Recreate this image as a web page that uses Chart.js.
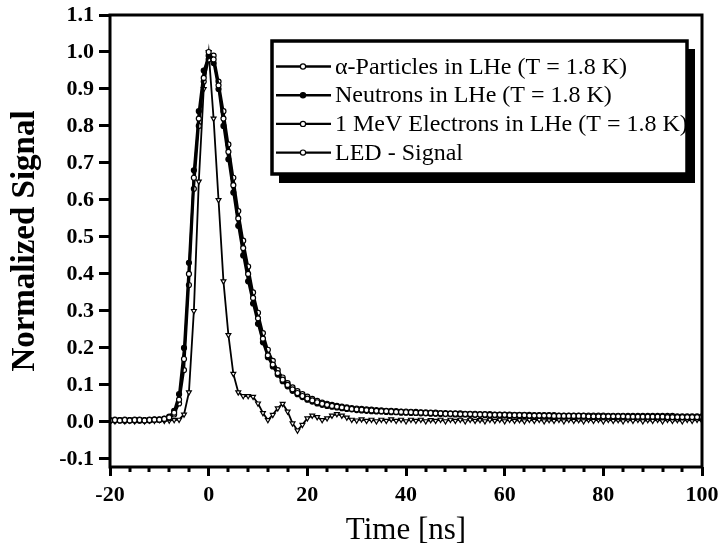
<!DOCTYPE html>
<html>
<head>
<meta charset="utf-8">
<script src="https://cdn.jsdelivr.net/npm/chart.js@4.4.1/dist/chart.umd.min.js"></script>
<style>
  html, body { margin: 0; padding: 0; background: #fff; }
  #wrap { width: 724px; height: 549px; position: relative; }
</style>
</head>
<body>
<div id="wrap"><canvas id="chart" width="724" height="549"></canvas></div>
<script>
// time axis: one sample per ns from -20 to 100
const times = [];
for (let t = -20; t <= 100; t++) times.push(t);

const xTickLabels = [-20, 0, 20, 40, 60, 80, 100];
const yTickLabels = [-0.1, 0.0, 0.1, 0.2, 0.3, 0.4, 0.5, 0.6, 0.7, 0.8, 0.9, 1.0, 1.1];

const seriesNames = [
    'α-Particles in LHe (T = 1.8 K)',
    'Neutrons in LHe (T = 1.8 K)',
    '1 MeV Electrons in LHe (T = 1.8 K)',
    'LED - Signal'
];

const alphaSignal = [
    0.004, 0.005, 0.004, 0.005, 0.004, 0.005, 0.005, 0.004, 0.005, 0.006,
    0.006, 0.008, 0.012, 0.025, 0.06, 0.17, 0.40, 0.66, 0.82, 0.93,
    1.00, 0.98, 0.91, 0.82, 0.73, 0.64, 0.55, 0.47, 0.40, 0.335,
    0.28, 0.225, 0.18, 0.155, 0.132, 0.114, 0.100, 0.088, 0.078, 0.070,
    0.063, 0.058, 0.053, 0.049, 0.046, 0.043, 0.041, 0.039, 0.037, 0.035,
    0.034, 0.033, 0.032, 0.031, 0.030, 0.029, 0.029, 0.028, 0.027, 0.027,
    0.026, 0.026, 0.025, 0.025, 0.024, 0.024, 0.023, 0.023, 0.022, 0.022,
    0.022, 0.021, 0.021, 0.021, 0.020, 0.020, 0.020, 0.019, 0.019, 0.019,
    0.019, 0.018, 0.018, 0.018, 0.018, 0.017, 0.017, 0.017, 0.017, 0.017,
    0.016, 0.016, 0.016, 0.016, 0.016, 0.016, 0.016, 0.015, 0.015, 0.015,
    0.015, 0.015, 0.015, 0.015, 0.015, 0.014, 0.014, 0.014, 0.014, 0.014,
    0.014, 0.014, 0.014, 0.013, 0.013, 0.013, 0.013, 0.013, 0.013, 0.013,
    0.013
];

const neutronSignal = [
    0.003, 0.004, 0.004, 0.003, 0.004, 0.004, 0.003, 0.004, 0.004, 0.005,
    0.005, 0.007, 0.014, 0.03, 0.075, 0.20, 0.43, 0.68, 0.84, 0.95,
    0.99, 0.97, 0.90, 0.80, 0.71, 0.62, 0.53, 0.45, 0.38, 0.32,
    0.265, 0.215, 0.175, 0.150, 0.128, 0.110, 0.096, 0.084, 0.075, 0.067,
    0.060, 0.055, 0.050, 0.046, 0.043, 0.041, 0.039, 0.037, 0.035, 0.034,
    0.032, 0.031, 0.030, 0.029, 0.028, 0.028, 0.027, 0.026, 0.026, 0.025,
    0.025, 0.024, 0.024, 0.023, 0.023, 0.022, 0.022, 0.021, 0.021, 0.021,
    0.020, 0.020, 0.020, 0.019, 0.019, 0.019, 0.018, 0.018, 0.018, 0.018,
    0.017, 0.017, 0.017, 0.017, 0.016, 0.016, 0.016, 0.016, 0.016, 0.015,
    0.015, 0.015, 0.015, 0.015, 0.015, 0.015, 0.015, 0.014, 0.014, 0.014,
    0.014, 0.014, 0.014, 0.014, 0.014, 0.014, 0.014, 0.014, 0.014, 0.014,
    0.014, 0.013, 0.013, 0.013, 0.013, 0.013, 0.013, 0.013, 0.013, 0.013,
    0.013
];

const electronSignal = [
    0.005, 0.006, 0.005, 0.006, 0.005, 0.006, 0.006, 0.005, 0.006, 0.007,
    0.007, 0.009, 0.011, 0.02, 0.05, 0.14, 0.37, 0.63, 0.80, 0.92,
    0.98, 0.99, 0.92, 0.84, 0.75, 0.66, 0.57, 0.49, 0.42, 0.35,
    0.295, 0.24, 0.195, 0.165, 0.140, 0.120, 0.105, 0.093, 0.083, 0.075,
    0.068, 0.062, 0.057, 0.052, 0.049, 0.046, 0.043, 0.041, 0.039, 0.037,
    0.036, 0.035, 0.034, 0.033, 0.032, 0.031, 0.030, 0.030, 0.029, 0.028,
    0.028, 0.027, 0.027, 0.026, 0.026, 0.025, 0.025, 0.024, 0.024, 0.023,
    0.023, 0.023, 0.022, 0.022, 0.022, 0.021, 0.021, 0.021, 0.020, 0.020,
    0.020, 0.020, 0.019, 0.019, 0.019, 0.019, 0.018, 0.018, 0.018, 0.018,
    0.018, 0.017, 0.017, 0.017, 0.017, 0.017, 0.017, 0.017, 0.017, 0.017,
    0.017, 0.016, 0.016, 0.016, 0.016, 0.016, 0.016, 0.016, 0.016, 0.016,
    0.016, 0.016, 0.016, 0.016, 0.016, 0.015, 0.015, 0.015, 0.015, 0.015,
    0.015
];

const ledSignal = [
    0.004, 0.002, 0.005, 0.002, 0.004, 0.002, 0.005, 0.002, 0.004, 0.003,
    0.005, 0.003, 0.004, 0.005, 0.006, 0.02, 0.08, 0.30, 0.65, 0.90,
    1.00, 0.82, 0.60, 0.38, 0.235, 0.13, 0.08, 0.07, 0.07, 0.068,
    0.05, 0.024, 0.005, 0.019, 0.037, 0.049, 0.028, -0.004, -0.023, -0.008,
    0.01, 0.017, 0.013, 0.005, 0.01, 0.017, 0.021, 0.017, 0.012, 0.006,
    0.004, 0.007, 0.003, 0.006, 0.002, 0.006, 0.003, 0.007, 0.003, 0.006,
    0.002, 0.006, 0.003, 0.006, 0.002, 0.005, 0.003, 0.006, 0.002, 0.006,
    0.003, 0.006, 0.002, 0.006, 0.003, 0.005, 0.002, 0.006, 0.003, 0.006,
    0.002, 0.006, 0.003, 0.005, 0.002, 0.006, 0.003, 0.006, 0.002, 0.005,
    0.003, 0.006, 0.002, 0.006, 0.003, 0.005, 0.002, 0.006, 0.003, 0.006,
    0.002, 0.006, 0.003, 0.005, 0.002, 0.006, 0.003, 0.006, 0.002, 0.005,
    0.003, 0.006, 0.002, 0.006, 0.003, 0.005, 0.002, 0.006, 0.003, 0.006,
    0.003
];

const SERIF = "'Liberation Serif', 'Times New Roman', serif";

function toPoints(values) {
    return values.map((v, i) => ({ x: times[i], y: v }));
}

function makeSet(label, values, fill, style) {
    const tri = style === 'triangle';
    return {
        label: label,
        data: toPoints(values),
        borderColor: '#000',
        borderWidth: tri ? 1.8 : 2.2,
        pointStyle: style || 'circle',
        pointRotation: tri ? 180 : 0,
        pointRadius: tri ? 2.8 : 2.5,
        pointBorderWidth: 1.2,
        pointBorderColor: '#000',
        pointBackgroundColor: fill,
        tension: 0
    };
}

// frame, minor x ticks and the boxed legend with drop shadow
const frameAndLegend = {
    id: 'frameAndLegend',
    afterDraw(chart) {
        const { ctx, chartArea: a, scales } = chart;
        ctx.save();
        ctx.strokeStyle = '#000';
        ctx.lineWidth = 3;
        ctx.strokeRect(a.left, a.top, a.right - a.left, a.bottom - a.top);

        // minor ticks every 4 ns
        ctx.lineWidth = 3;
        for (let t = -20; t <= 100; t += 4) {
            if (t % 20 === 0) continue;
            const px = Math.round(scales.x.getPixelForValue(t));
            ctx.beginPath();
            ctx.moveTo(px, a.bottom);
            ctx.lineTo(px, a.bottom + 5);
            ctx.stroke();
        }

        // legend box
        const bx = 272, by = 41, bw = 415, bh = 133;
        ctx.fillStyle = '#000';
        ctx.fillRect(bx + 7, by + 8, bw + 1, bh + 1);
        ctx.fillStyle = '#fff';
        ctx.fillRect(bx, by, bw, bh);
        ctx.lineWidth = 3.5;
        ctx.strokeRect(bx, by, bw, bh);

        ctx.font = '24px ' + SERIF;
        ctx.textBaseline = 'middle';
        ctx.textAlign = 'left';
        chart.data.datasets.forEach((ds, i) => {
            const y = 66.5 + i * 28.7;
            ctx.strokeStyle = '#000';
            ctx.lineWidth = 2.4;
            ctx.beginPath();
            ctx.moveTo(276, y);
            ctx.lineTo(331, y);
            ctx.stroke();
            ctx.lineWidth = 1.2;
            ctx.fillStyle = ds.pointBackgroundColor;
            ctx.beginPath();
            ctx.arc(303, y, 2.6, 0, Math.PI * 2);
            ctx.fill();
            ctx.stroke();
            ctx.fillStyle = '#000';
            ctx.fillText(ds.label, 335, y + 1);
        });
        ctx.restore();
    }
};

new Chart(document.getElementById('chart'), {
    type: 'line',
    data: {
        datasets: [
            makeSet(seriesNames[0], alphaSignal, '#fff'),
            makeSet(seriesNames[1], neutronSignal, '#000'),
            makeSet(seriesNames[2], electronSignal, '#fff'),
            makeSet(seriesNames[3], ledSignal, '#fff', 'triangle')
        ]
    },
    options: {
        responsive: false,
        animation: false,
        layout: { padding: { top: 15, right: 22, left: 0, bottom: 0 } },
        plugins: {
            legend: { display: false },
            tooltip: { enabled: false }
        },
        scales: {
            x: {
                type: 'linear',
                min: -20,
                max: 100,
                afterBuildTicks: s => { s.ticks = xTickLabels.map(v => ({ value: v })); },
                afterFit: s => { s.height = 82; s.paddingLeft = 0; s.paddingRight = 0; },
                border: { display: false },
                grid: {
                    drawOnChartArea: false,
                    drawTicks: true,
                    tickLength: 9,
                    tickWidth: 3,
                    tickColor: '#000'
                },
                ticks: {
                    color: '#000',
                    padding: 6,
                    maxRotation: 0,
                    autoSkip: false,
                    font: { family: SERIF, size: 22, weight: 'bold' },
                    callback: v => String(v)
                },
                title: {
                    display: true,
                    text: 'Time [ns]',
                    color: '#000',
                    padding: { top: 0, bottom: 0 },
                    font: { family: SERIF, size: 31 }
                }
            },
            y: {
                min: -0.122,
                max: 1.1,
                afterBuildTicks: s => { s.ticks = yTickLabels.map(v => ({ value: v })); },
                afterFit: s => { s.width = 110; s.paddingTop = 0; s.paddingBottom = 0; },
                border: { display: false },
                grid: {
                    drawOnChartArea: false,
                    drawTicks: true,
                    tickLength: 11,
                    tickWidth: 3,
                    tickColor: '#000'
                },
                ticks: {
                    color: '#000',
                    padding: 5,
                    autoSkip: false,
                    font: { family: SERIF, size: 22, weight: 'bold' },
                    callback: v => v.toFixed(1)
                },
                title: {
                    display: true,
                    text: 'Normalized Signal',
                    color: '#000',
                    padding: { top: 6, bottom: 0 },
                    font: { family: SERIF, size: 33, weight: 'bold' }
                }
            }
        }
    },
    plugins: [frameAndLegend]
});
</script>
</body>
</html>
